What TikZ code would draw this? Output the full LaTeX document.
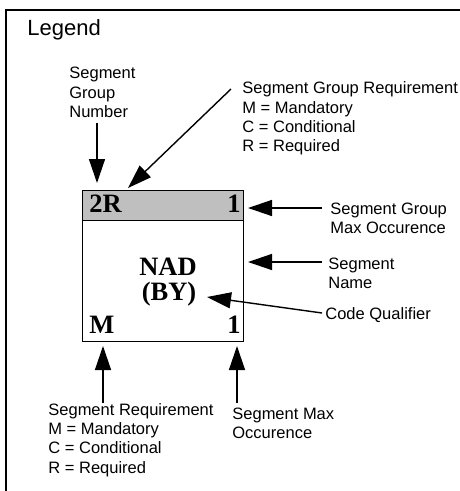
\documentclass[tikz,border=0pt]{standalone}
\usepackage{fontspec}
\setmainfont{Liberation Sans}
\newfontfamily\boxfont{Liberation Serif}
\usetikzlibrary{arrows.meta}

\begin{document}
\begin{tikzpicture}[x=1pt, y=-1pt, line width=0.8pt,
  note/.style = {anchor=west, align=left, inner sep=0pt, font=\fontsize{16.5}{19.2}\selectfont},
  boxtext/.style = {inner sep=0pt, font=\boxfont\bfseries\fontsize{26.5}{28}\selectfont},
  pointer/.style = {line width=1.4pt, -{Triangle[length=24pt, width=16pt]}}]
  \useasboundingbox (0,0) rectangle (460,491);
  % frame, open to the right and to the bottom
  \draw[line width=1.6pt] (6,500) -- (6,10) -- (470,10);
  \node[anchor=west, inner sep=0pt, font=\fontsize{22}{24}\selectfont] (legend) at (27,30) {Legend};
  % the segment box
  \fill[black!25] (82,190) rectangle (243,220);
  \draw (82,190) rectangle (243,341);
  \draw (82,220) -- (243,220);
  \node[boxtext, anchor=base west] (grpid) at (89,212) {2R};
  \node[boxtext, anchor=base east] (grpcount) at (241,212) {1};
  \node[boxtext, anchor=base] (segtag) at (168,275) {NAD};
  \node[boxtext, anchor=base] (qualtag) at (169,300) {(BY)};
  \node[boxtext, anchor=base west] (segreqtag) at (89,333) {M};
  \node[boxtext, anchor=base east] (segcount) at (241,333) {1};
  % notes
  \node[note] (grpnum) at (69,92.5) {Segment\\Group\\Number};
  \node[note] (grpreq) at (242,118.5) {Segment Group Requirement\\M = Mandatory\\C = Conditional\\R = Required};
  \node[note] (grpmax) at (330,218.5) {Segment Group\\Max Occurence};
  \node[note] (segname) at (328,273) {Segment\\Name};
  \node[note] (codequal) at (325,315) {Code Qualifier};
  \node[note] (segreq) at (48,440) {Segment Requirement\\M = Mandatory\\C = Conditional\\R = Required};
  \node[note] (segmax) at (232,423) {Segment Max\\Occurence};
  % pointers
  \coordinate (grpnumtail) at (97,123);   \coordinate (grpnumtip) at (97,183);
  \coordinate (grpreqtail) at (231,89);   \coordinate (grpreqtip) at (128,188);
  \coordinate (grpmaxtail) at (322,208);  \coordinate (grpmaxtip) at (248,208);
  \coordinate (segnametail) at (322,262); \coordinate (segnametip) at (248,262);
  \coordinate (codequaltail) at (322,313); \coordinate (codequaltip) at (207,297);
  \coordinate (segreqtail) at (103,403);  \coordinate (segreqtip) at (103,346);
  \coordinate (segmaxtail) at (237,403);  \coordinate (segmaxtip) at (237,346);
  \foreach \p in {grpnum, grpreq, grpmax, segname, codequal, segreq, segmax}
    \draw[pointer] (\p tail) -- (\p tip);
\end{tikzpicture}
\end{document}
